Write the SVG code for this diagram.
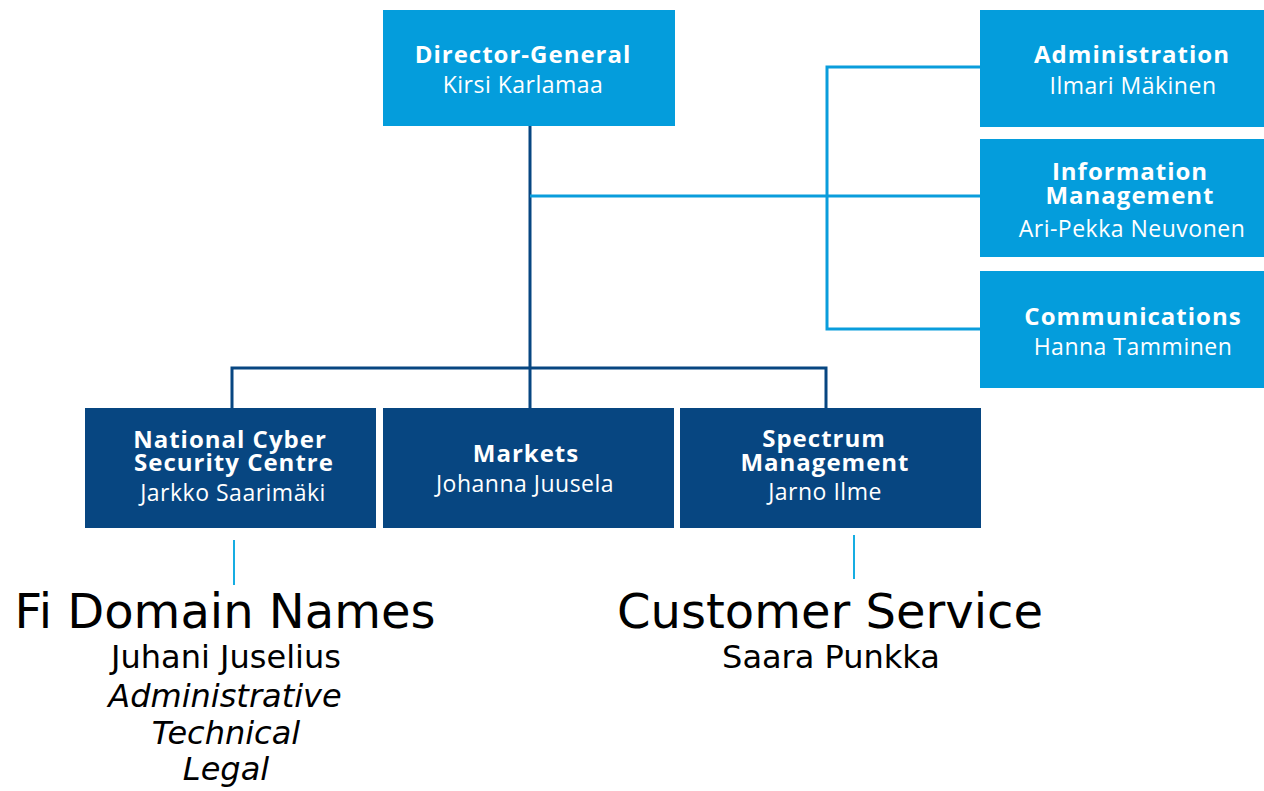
<svg xmlns="http://www.w3.org/2000/svg" width="1264" height="791" viewBox="0 0 1264 791">
<style>
.lb{fill:#049ddc}
.db{fill:#074681}
.t{font-family:"Open Sans","Noto Sans",sans-serif;fill:#fff;text-anchor:middle}
.b{font-weight:700;font-size:24px;letter-spacing:1px}
.n{font-weight:400;font-size:23px;letter-spacing:0.5px}
.cl{stroke:#0a9ddc;stroke-width:3;fill:none}
.cd{stroke:#074681;stroke-width:3;fill:none}
.cs{stroke:#16ade2;stroke-width:2;fill:none}
.k{font-family:"DejaVu Sans",Verdana,sans-serif;fill:#000;text-anchor:middle}
</style>
<rect width="1264" height="791" fill="#fff"/>
<g id="connectors">
<path class="cd" d="M530 126V408M232 408V368H826V408"/>
<path class="cl" d="M530 196H980M980 67H827V329H980"/>
<path class="cs" d="M234 540V585M854 535V579"/>
</g>
<g id="director-general">
<rect class="lb" x="383" y="10" width="292" height="116"/>
<text class="t b" x="523" y="63">Director-General</text>
<text class="t n" x="523" y="93">Kirsi Karlamaa</text>
</g>
<g id="administration">
<rect class="lb" x="980" y="10" width="284" height="117"/>
<text class="t b" x="1132" y="63">Administration</text>
<text class="t n" x="1133" y="94">Ilmari Mäkinen</text>
</g>
<g id="information-management">
<rect class="lb" x="980" y="139" width="284" height="118"/>
<text class="t b" x="1130" y="180">Information<tspan x="1130" dy="24">Management</tspan></text>
<text class="t n" x="1132" y="237">Ari-Pekka Neuvonen</text>
</g>
<g id="communications">
<rect class="lb" x="980" y="271" width="284" height="117"/>
<text class="t b" x="1133" y="325">Communications</text>
<text class="t n" x="1133" y="355">Hanna Tamminen</text>
</g>
<g id="ncsc">
<rect class="db" x="85" y="408" width="291" height="120"/>
<text class="t b" x="230" y="448">National Cyber<tspan x="234" dy="23">Security Centre</tspan></text>
<text class="t n" x="233" y="501">Jarkko Saarimäki</text>
</g>
<g id="markets">
<rect class="db" x="383" y="408" width="291" height="120"/>
<text class="t b" x="526" y="462">Markets</text>
<text class="t n" x="525" y="492">Johanna Juusela</text>
</g>
<g id="spectrum-management">
<rect class="db" x="680" y="408" width="301" height="120"/>
<text class="t b" x="824" y="447">Spectrum<tspan x="825" dy="24">Management</tspan></text>
<text class="t n" x="825" y="500">Jarno Ilme</text>
</g>
<g id="fi-domain-names">
<text class="k" x="225" y="628" font-size="48">Fi Domain Names</text>
<text class="k" x="226" y="668" font-size="32">Juhani Juselius</text>
<text class="k" x="225" y="707" font-size="32" font-style="italic">Administrative</text>
<text class="k" x="226" y="744" font-size="32" font-style="italic">Technical</text>
<text class="k" x="226" y="780" font-size="32" font-style="italic">Legal</text>
</g>
<g id="customer-service">
<text class="k" x="830" y="628" font-size="48">Customer Service</text>
<text class="k" x="831" y="668" font-size="32">Saara Punkka</text>
</g>
</svg>
